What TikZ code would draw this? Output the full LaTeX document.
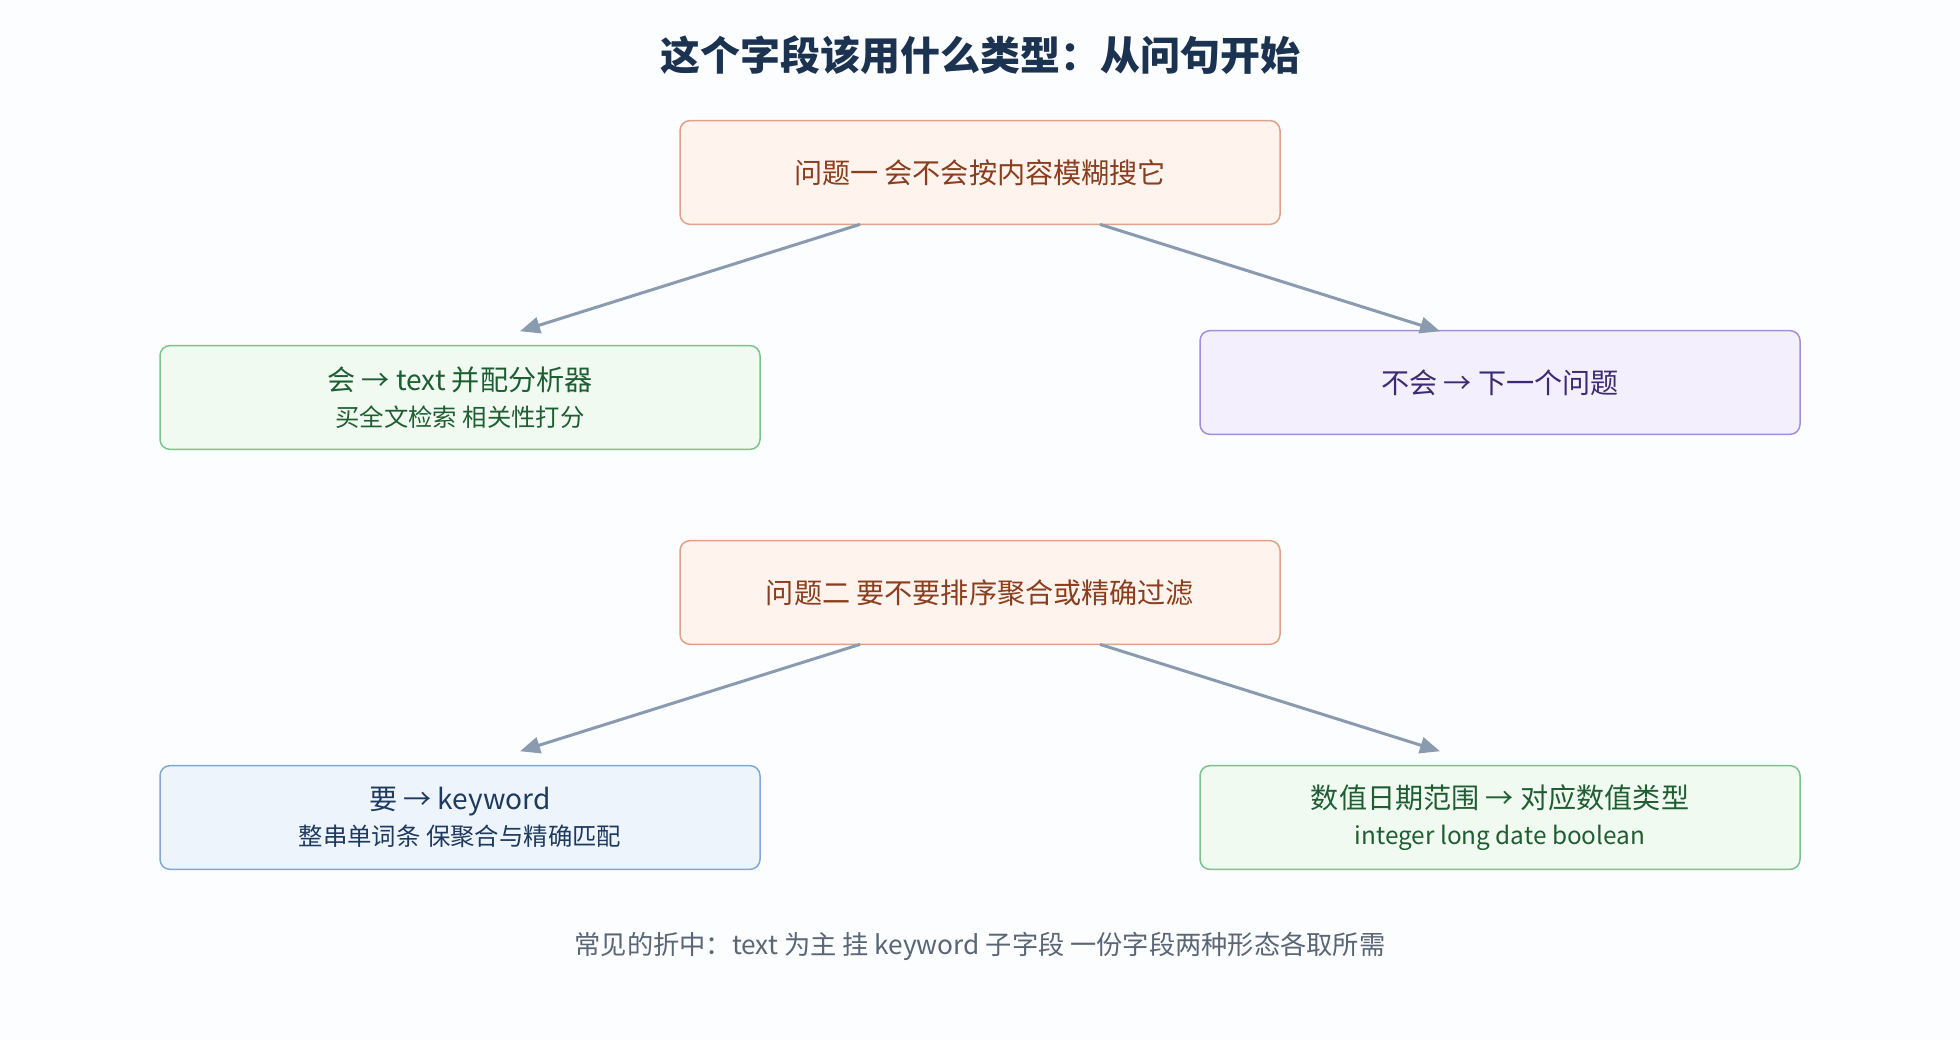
\documentclass[tikz,border=0pt]{standalone}
\usepackage{fontspec}
\setmainfont{Noto Sans CJK SC}
\usetikzlibrary{arrows.meta}
\definecolor{bg}{HTML}{FCFDFE}
\definecolor{qf}{HTML}{FFF3EE}\definecolor{qd}{HTML}{E0A286}\definecolor{qt}{HTML}{8A3E1E}
\definecolor{gf}{HTML}{F0FAF1}\definecolor{gd}{HTML}{7CC48C}\definecolor{gt}{HTML}{1F5E33}
\definecolor{pf}{HTML}{F3EFFC}\definecolor{pd}{HTML}{A38FD9}\definecolor{pt}{HTML}{3B2B72}
\definecolor{bf}{HTML}{EEF4FC}\definecolor{bd}{HTML}{80A8D6}\definecolor{bt}{HTML}{1F3A5F}
\definecolor{ar}{HTML}{8A9BB0}\definecolor{ti}{HTML}{1B3350}\definecolor{ft}{HTML}{5A6675}
\newcommand{\mainsz}{\fontsize{22.5}{28}\selectfont}
\newcommand{\subsz}{\fontsize{19.5}{29}\selectfont}
\begin{document}
\begin{tikzpicture}[x=1pt,y=-1pt,
 box/.style={draw=#1d,fill=#1f,line width=1.2pt,rounded corners=8pt,minimum width=480pt,minimum height=83pt,inner sep=0pt,align=center,text=#1t},
 main/.style={font=\mainsz},
 two/.style={font=\subsz},
 arr/.style={draw=ar,line width=2.4pt,-{Triangle[length=16pt,width=13pt]}}]
\fill[bg] (0,0) rectangle (1568,832);
\node[font=\fontsize{32}{38}\selectfont\bfseries,text=ti] (title) at (784,44) {这个字段该用什么类型：从问句开始};
\node[box=q,main] (q1) at (784,138) {问题一 会不会按内容模糊搜它};
\node[box=g,two] (l1) at (368,318) {{\mainsz 会 → text 并配分析器}\\{\subsz 买全文检索 相关性打分}};
\node[box=p,main] (r1) at (1200,306) {不会 → 下一个问题};
\node[box=q,main] (q2) at (784,474) {问题二 要不要排序聚合或精确过滤};
\node[box=b,two] (l2) at (368,654) {{\mainsz 要 → keyword}\\{\subsz 整串单词条 保聚合与精确匹配}};
\node[box=g,two] (r2) at (1200,654) {{\mainsz 数值日期范围 → 对应数值类型}\\{\subsz integer long date boolean}};
\node[font=\fontsize{21}{26}\selectfont,text=ft] (foot) at (784,757) {常见的折中：text 为主 挂 keyword 子字段 一份字段两种形态各取所需};
\coordinate (a1) at (416,265);\coordinate (b1) at (1152,265);
\coordinate (a2) at (416,601);\coordinate (b2) at (1152,601);
\draw[arr] (688,179.5) -- (a1);
\draw[arr] (880,179.5) -- (b1);
\draw[arr] (688,515.5) -- (a2);
\draw[arr] (880,515.5) -- (b2);
\end{tikzpicture}
\end{document}
